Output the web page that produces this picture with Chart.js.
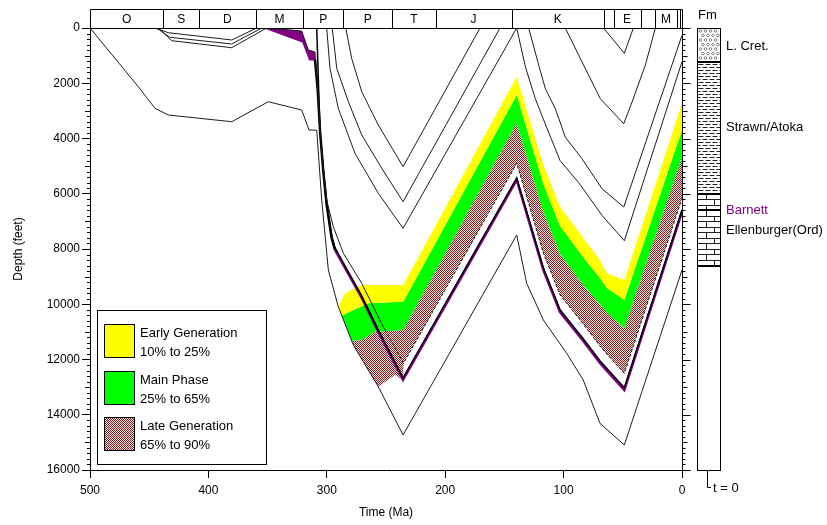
<!DOCTYPE html>
<html>
<head>
<meta charset="utf-8">
<title>Burial history</title>
<script src="https://cdn.jsdelivr.net/npm/chart.js@4.4.1/dist/chart.umd.min.js"></script>
<style>
  body { margin: 0; background: #fff; }
  canvas { display: block; }
</style>
</head>
<body>
<canvas id="burialChart" width="827" height="525"></canvas>
<script>
// Axes
const timeRange = [0, 500];
const timeStep = 100;
const depthRange = [0, 16000];
const depthStep = 2000;
const depthMinorStep = 200;

// Time scale bar along the top (Ma)
const periodBounds = [500, 438, 408, 360, 320, 286, 245, 208, 144, 66, 57.8, 35, 23, 4, 1.5, 0];
const periodLabels = ['O', 'S', 'D', 'M', 'P', 'P', 'T', 'J', 'K', '', 'E', '', 'M', '', ''];

// Horizon burial paths, [age Ma, depth ft]
const ellenburgerBase = [[500, 0], [459.2, 2125], [445.1, 2907], [433.9, 3149], [380.3, 3392], [349.4, 2668],
  [321.2, 2968], [315, 3692], [308.5, 3700], [304.3, 6226], [298.7, 8760], [290.3, 10089], [277.6, 11475],
  [256.5, 12985], [235.6, 14733], [139.6, 7493], [131.2, 9242], [117.1, 10570], [97.4, 11776], [83.4, 12742],
  [69.3, 14310], [48.7, 15095], [0, 8760]];
const silurian1 = [[445.1, 0], [433.9, 170], [380.3, 434], [359.2, 0]];
const silurian2 = [[443.7, 0], [432.4, 337], [380.3, 579], [355, 0]];
const silurian3 = [[442.3, 0], [431, 460], [380.3, 713], [350.8, 0]];
const barnettTop = [[350.8, 0], [321.2, 109], [315.6, 796], [310, 869], [307.7, 2172], [305.7, 3620], [302.9, 5068],
  [300.1, 6226], [294.5, 7193], [286, 8156], [270.5, 9242], [250.8, 10946], [235.2, 12137], [139.6, 4898],
  [117.1, 8145], [103, 9665], [83.4, 10715], [69.3, 11511], [63.6, 11800], [48.7, 12500], [0, 6165]];
const barnettBase = [[350.8, 0], [319.8, 496], [314.2, 1133], [310, 1133], [307.7, 2244], [305.7, 3728], [302.9, 5213],
  [300.1, 6407], [295.9, 7602], [293.1, 8036], [284.6, 8688], [270.5, 9774], [256.5, 11005], [235.6, 12742],
  [139.6, 5502], [117.1, 8760], [103, 10281], [83.4, 11330], [69.3, 12127], [63.6, 12400], [48.7, 13104], [0, 6661]];
const pennBase = [[308.5, 0], [305.7, 3800], [302.9, 5150], [300.1, 6320], [295.9, 7520], [293.1, 7950], [284.6, 8608],
  [270.5, 9694], [256.5, 10925], [235.6, 12662], [139.6, 5422], [117.1, 8680], [103, 10201], [83.4, 11250],
  [69.3, 12047], [63.6, 12320], [48.7, 13024], [0, 6581]];
const permian1 = [[284, 0], [279, 1097], [270.5, 2306], [256.5, 3511], [235.6, 5020], [170.6, 0]];
const permian2 = [[295.4, 0], [291.6, 1459], [281.8, 2668], [270.5, 3873], [253.6, 5079], [235.6, 6288], [153.7, 0]];
const strawnTop = [[300.1, 0], [297.3, 1459], [290.3, 2907], [276.2, 4536], [256.5, 5984], [235.6, 7251], [139.6, 0],
  [132.3, 1400], [123.9, 2559], [117.1, 3300], [103, 4800], [87.2, 5600], [67.6, 6780], [48.7, 7700], [0, 1220]];
const cretaceous2 = [[129.5, 0], [121, 1351], [115.4, 2197], [107, 2921], [101.4, 3600], [98.6, 3950], [84.5, 4730],
  [67.6, 5816], [49.2, 6480], [0, 265]];
const cretaceous3 = [[98.6, 0], [87.2, 989], [76, 1955], [69, 2558], [49.2, 3464], [42.2, 2679], [31, 1351], [22.5, 0]];
const eocene = [[66.3, 0], [48.7, 917], [41.1, 0]];

// Transformation zone boundaries, [age Ma, depth ft]
const earlyTop = [[290.3, 10089], [284.6, 9604], [270.5, 9303], [235.4, 9303], [139.6, 1763], [117.1, 4959],
  [103, 6469], [83.4, 7600], [69.3, 8400], [63.6, 8880], [48.7, 9122], [0, 2726]];
const mainTop = [[290.3, 10089], [287.4, 10405], [277.6, 10208], [265, 9966], [235.4, 9908], [139.6, 2425],
  [117.1, 5647], [103, 7167], [83.4, 8300], [69.3, 9050], [63.6, 9400], [48.7, 9846], [0, 3692]];
const lateTop = [[290.3, 10089], [287.4, 10405], [279, 11322], [270.5, 11294], [259.3, 10994], [235.4, 10932],
  [139.6, 3450], [117.1, 6661], [103, 8181], [83.4, 9300], [69.3, 10000], [63.6, 10300], [48.7, 10871], [0, 4659]];
const lateBase = [[290.3, 10089], [287.4, 10405], [279, 11322], [277.6, 11475], [256.5, 12985], [242.4, 12561],
  [235.6, 12742], [235.2, 12137], [139.6, 4898], [117.1, 8145], [103, 9665], [83.4, 10715], [69.3, 11511],
  [63.6, 11800], [48.7, 12500], [0, 6165]];

const zoneNames = ['Early Generation', 'Main Phase', 'Late Generation'];
const zoneRanges = ['10% to 25%', '25% to 65%', '65% to 90%'];

// Formation column
const fmNames = ['L. Cret.', 'Strawn/Atoka', 'Barnett', 'Ellenburger(Ord)'];
const fmTops = [0, 1220, 6000, 6600];
const fmBases = [1220, 6000, 6600, 8600];
const fmLabelDepths = [650, 3610, 6610, 7310];
const fmPatterns = ['dots', 'dashes', 'bricks', 'bricks'];

const FONT = "'Liberation Sans', Arial, sans-serif";
const PURPLE = '#800080';
const CLEAR = 'rgba(0,0,0,0)';
const fmColours = ['#000', '#000', PURPLE, '#000'];

Chart.defaults.font.family = FONT;
Chart.defaults.font.size = 12;
Chart.defaults.color = '#000';

function makeHatch() {
  const c = document.createElement('canvas');
  c.width = 2; c.height = 2;
  const g = c.getContext('2d');
  g.fillStyle = '#ead9d9';
  g.fillRect(0, 0, 2, 2);
  g.fillStyle = '#7d2424';
  g.fillRect(0, 0, 1, 1);
  g.fillRect(1, 1, 1, 1);
  return g.createPattern(c, 'repeat');
}
const hatch = makeHatch();
const zoneFills = ['#ffff00', '#00ff00', hatch];

const line = (label, pts, opts = {}) => Object.assign({
  label,
  data: pts.map(([x, y]) => ({x, y})),
  borderColor: '#1c1c1c',
  borderWidth: 1,
  pointRadius: 0,
  fill: false,
  tension: 0
}, opts);

const topSet = line('Barnett top', barnettTop, {
  segment: { borderDash: ctx => ctx.p0.parsed.x < 252 ? [3, 2] : undefined }
});
const baseFill = line('Barnett fill', barnettBase.slice(0, 4), {borderColor: PURPLE, backgroundColor: PURPLE});

const datasets = [
  line('10%', earlyTop, {borderColor: CLEAR, fill: '+1', backgroundColor: zoneFills[0]}),
  line('25%', mainTop, {borderColor: CLEAR, fill: '+1', backgroundColor: zoneFills[1]}),
  line('65%', lateTop, {borderColor: CLEAR, fill: '+1', backgroundColor: zoneFills[2]}),
  line('90%', lateBase, {borderColor: CLEAR}),
  baseFill,
  line('Ellenburger base', ellenburgerBase),
  line('Silurian 1', silurian1),
  line('Silurian 2', silurian2),
  line('Silurian 3', silurian3),
  line('Permian 1', permian1),
  line('Permian 2', permian2),
  line('Strawn top', strawnTop),
  line('Cretaceous 2', cretaceous2),
  line('Cretaceous 3', cretaceous3),
  line('Eocene', eocene),
  topSet,
  line('Penn base', pennBase, {borderColor: '#000', borderWidth: 1.5}),
  line('Barnett base', barnettBase, {
    borderColor: PURPLE,
    borderWidth: 2.5,
    segment: {
      borderColor: ctx => (ctx.p0.parsed.x <= 310.5 && ctx.p0.parsed.x > 294) ? '#000' : PURPLE
    }
  })
];
baseFill.fill = datasets.indexOf(topSet);

// patterns for the formation column
function clipRect(ctx, l, t, r, b) {
  ctx.beginPath();
  ctx.rect(l, t, r - l, b - t);
  ctx.clip();
}
function fillDots(ctx, l, t, r, b) {
  ctx.save();
  clipRect(ctx, l, t, r, b);
  ctx.strokeStyle = '#666';
  ctx.lineWidth = 0.8;
  let row = 0;
  for (let yy = t + 3; yy < b; yy += 4.5, row++) {
    for (let xx = l + 3 + (row % 2) * 2.5; xx < r; xx += 5) {
      ctx.beginPath();
      ctx.arc(xx, yy, 1.3, 0, Math.PI * 2);
      ctx.stroke();
    }
  }
  ctx.restore();
}
function fillDashes(ctx, l, t, r, b) {
  ctx.save();
  clipRect(ctx, l, t, r, b);
  ctx.strokeStyle = '#222';
  ctx.lineWidth = 1;
  ctx.beginPath();
  let row = 0;
  for (let yy = Math.round(t) + 2.5; yy < b; yy += 3, row++) {
    for (let xx = l + 1 - (row % 2) * 3; xx < r; xx += 7) {
      ctx.moveTo(xx, yy);
      ctx.lineTo(xx + 5, yy);
    }
  }
  ctx.stroke();
  ctx.restore();
}
function fillBricks(ctx, l, t, r, b) {
  ctx.save();
  clipRect(ctx, l, t, r, b);
  ctx.strokeStyle = '#222';
  ctx.lineWidth = 1;
  ctx.beginPath();
  let row = 0;
  for (let yy = t; yy < b; yy += 5.5, row++) {
    const py = Math.round(yy) + 0.5;
    ctx.moveTo(l, py);
    ctx.lineTo(r, py);
    for (let xx = l + 8 + (row % 2) * 8; xx < r; xx += 16) {
      const px = Math.round(xx) + 0.5;
      ctx.moveTo(px, py);
      ctx.lineTo(px, Math.min(b, py + 5.5));
    }
  }
  ctx.stroke();
  ctx.restore();
}
const patternFns = {dots: fillDots, dashes: fillDashes, bricks: fillBricks};

const decor = {
  id: 'decor',
  afterDraw(chart) {
    const {ctx, chartArea: a, scales: {x, y}} = chart;
    ctx.save();
    ctx.lineWidth = 1;
    ctx.strokeStyle = '#000';
    ctx.fillStyle = '#000';

    // time scale bar
    const barTop = 9.5;
    const px = v => Math.round(x.getPixelForValue(v)) + 0.5;
    const bl = px(periodBounds[0]);
    const br = px(periodBounds[periodBounds.length - 1]);
    ctx.beginPath();
    ctx.moveTo(bl, barTop); ctx.lineTo(br, barTop);
    ctx.moveTo(bl, a.top + 0.5); ctx.lineTo(br, a.top + 0.5);
    periodBounds.forEach(v => { ctx.moveTo(px(v), barTop); ctx.lineTo(px(v), a.top); });
    ctx.stroke();
    ctx.font = `12px ${FONT}`;
    ctx.textAlign = 'center';
    ctx.textBaseline = 'middle';
    periodLabels.forEach((lab, i) => {
      if (!lab) return;
      const c = (x.getPixelForValue(periodBounds[i]) + x.getPixelForValue(periodBounds[i + 1])) / 2;
      ctx.fillText(lab, c, (barTop + a.top) / 2 + 1);
    });

    // depth ticks, left minor and right axis
    const rx = Math.round(a.right) + 0.5;
    const lx = Math.round(a.left);
    ctx.beginPath();
    for (let d = depthRange[0]; d <= depthRange[1]; d += depthMinorStep) {
      const py = Math.round(y.getPixelForValue(d)) + 0.5;
      const len = d % depthStep === 0 ? 8 : (d % 1000 === 0 ? 5 : 3);
      if (d % depthStep !== 0) { ctx.moveTo(lx - len, py); ctx.lineTo(lx, py); }
      ctx.moveTo(rx, py); ctx.lineTo(rx + len, py);
    }
    ctx.moveTo(rx, a.top); ctx.lineTo(rx, a.bottom + 8);
    ctx.stroke();

    // formation column
    const cl = 697.5, cr = 720.5;
    fmNames.forEach((name, i) => {
      const t = y.getPixelForValue(fmTops[i]);
      const b = y.getPixelForValue(fmBases[i]);
      patternFns[fmPatterns[i]](ctx, cl, t, cr, b);
    });
    ctx.strokeStyle = '#000';
    ctx.lineWidth = 1;
    ctx.strokeRect(cl, Math.round(y.getPixelForValue(depthRange[0])) + 0.5, cr - cl,
      Math.round(y.getPixelForValue(depthRange[1]) - y.getPixelForValue(depthRange[0])));
    ctx.lineWidth = 2;
    ctx.beginPath();
    fmBases.forEach(d => {
      const py = Math.round(y.getPixelForValue(d));
      ctx.moveTo(cl, py); ctx.lineTo(cr, py);
    });
    ctx.stroke();
    ctx.lineWidth = 1;
    ctx.font = `13px ${FONT}`;
    ctx.textAlign = 'left';
    ctx.textBaseline = 'middle';
    fmNames.forEach((name, i) => {
      ctx.fillStyle = fmColours[i];
      ctx.fillText(name, 726, y.getPixelForValue(fmLabelDepths[i]));
    });
    ctx.fillStyle = '#000';
    ctx.fillText('Fm', 698, 15);
    // t = 0 marker
    const bottom = Math.round(y.getPixelForValue(depthRange[1]));
    ctx.beginPath();
    ctx.moveTo(707.5, bottom + 1); ctx.lineTo(707.5, bottom + 17.5); ctx.lineTo(711, bottom + 17.5);
    ctx.stroke();
    ctx.fillText('t = 0', 713, bottom + 18);

    // zone key
    ctx.fillStyle = '#fff';
    ctx.fillRect(97.5, 310.5, 169, 154);
    ctx.strokeRect(97.5, 310.5, 169, 154);
    ctx.font = `13px ${FONT}`;
    zoneNames.forEach((name, i) => {
      const sy = Math.round(324 + i * 46.7);
      ctx.fillStyle = zoneFills[i];
      ctx.fillRect(104.5, sy + 0.5, 30, 33);
      ctx.strokeRect(104.5, sy + 0.5, 30, 33);
      ctx.fillStyle = '#000';
      ctx.fillText(name, 140, sy + 9);
      ctx.fillText(zoneRanges[i], 140, sy + 28.5);
    });
    ctx.restore();
  }
};

new Chart(document.getElementById('burialChart'), {
  type: 'line',
  data: { datasets },
  options: {
    responsive: false,
    animation: false,
    events: [],
    layout: { padding: { top: 28, right: 145, left: 0, bottom: 0 } },
    plugins: {
      legend: { display: false },
      tooltip: { enabled: false },
      filler: { drawTime: 'beforeDatasetsDraw', propagate: false }
    },
    scales: {
      x: {
        type: 'linear',
        reverse: true,
        min: timeRange[0],
        max: timeRange[1],
        ticks: { stepSize: timeStep, padding: 5, callback: v => String(v) },
        grid: { drawOnChartArea: false, tickLength: 8, tickColor: '#000' },
        border: { display: true, color: '#000' },
        title: { display: true, text: 'Time (Ma)', font: { size: 12 }, padding: { top: 0, bottom: 5 } },
        afterFit: s => { s.height = 55; }
      },
      y: {
        type: 'linear',
        reverse: true,
        min: depthRange[0],
        max: depthRange[1],
        ticks: { stepSize: depthStep, padding: 2, callback: v => String(v) },
        grid: { drawOnChartArea: false, tickLength: 8, tickColor: '#000' },
        border: { display: true, color: '#000' },
        title: { display: true, text: 'Depth (feet)', font: { size: 12 }, padding: { top: 11, bottom: 0 } },
        afterFit: s => { s.width = 90; }
      }
    }
  },
  plugins: [decor]
});
</script>
</body>
</html>
